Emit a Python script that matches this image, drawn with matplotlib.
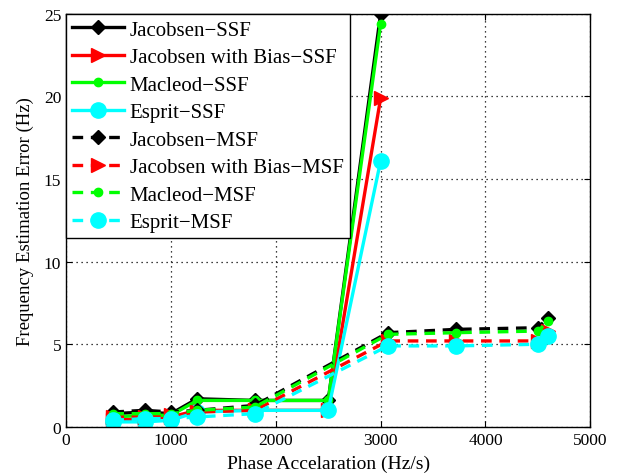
import matplotlib
matplotlib.use("Agg")
import matplotlib.pyplot as plt

# SSF data
ssf_x = [450, 750, 1000, 1250, 1800, 2500, 3000]
jac_ssf = [0.8, 0.9, 0.8, 1.7, 1.6, 1.6, 25.0]
jacb_ssf = [0.4, 0.5, 0.6, 1.0, 1.0, 1.0, 19.9]
mac_ssf = [0.6, 0.7, 0.7, 1.6, 1.6, 1.6, 24.4]
esp_ssf = [0.3, 0.3, 0.4, 0.9, 1.0, 1.0, 16.1]

# MSF data
msf_x = [450, 750, 1000, 1250, 1800, 3070, 3720, 4500, 4600]
jac_msf = [0.9, 1.0, 0.9, 1.0, 1.3, 5.7, 5.9, 6.0, 6.6]
jacb_msf = [0.6, 0.6, 0.7, 0.9, 1.0, 5.2, 5.2, 5.2, 5.8]
mac_msf = [0.8, 0.8, 0.8, 1.0, 1.2, 5.6, 5.7, 5.8, 6.4]
esp_msf = [0.4, 0.5, 0.5, 0.6, 0.8, 4.9, 4.9, 5.0, 5.5]

labels = ["Jacobsen\u2212SSF", "Jacobsen with Bias\u2212SSF", "Macleod\u2212SSF", "Esprit\u2212SSF",
          "Jacobsen\u2212MSF", "Jacobsen with Bias\u2212MSF", "Macleod\u2212MSF", "Esprit\u2212MSF"]

plt.rcParams['font.family'] = ['Liberation Serif', 'DejaVu Serif']

fig = plt.figure(figsize=(6.24, 4.77), dpi=100)
ax = fig.add_axes([0.106, 0.103, 0.840, 0.866])

lw = 2.4
styles = [
    dict(color='black', marker='D', ms=7),
    dict(color='red', marker='>', ms=10),
    dict(color='#00ff00', marker='o', ms=6),
    dict(color='cyan', marker='o', ms=11),
]
ssf = [jac_ssf, jacb_ssf, mac_ssf, esp_ssf]
msf = [jac_msf, jacb_msf, mac_msf, esp_msf]
for data, st, lab in zip(ssf, styles, labels[:4]):
    ax.plot(ssf_x, data, linestyle='-', lw=lw, label=lab, **st)
for data, st, lab in zip(msf, styles, labels[4:]):
    ax.plot(msf_x, data, linestyle=(0, (3.2, 2.3)), lw=lw, label=lab, **st)

ax.set_xlim(0, 5000)
ax.set_ylim(0, 25)
ax.set_xticks([0, 1000, 2000, 3000, 4000, 5000])
ax.set_yticks([0, 5, 10, 15, 20, 25])
ax.grid(True, color='black', linestyle=(0, (1, 3)), linewidth=0.9)
ax.tick_params(direction='in', top=True, right=True, labelsize=12.5, length=4)
for s in ax.spines.values():
    s.set_linewidth(1.0)
ax.set_xlabel("Phase Accelaration (Hz/s)", fontsize=14, labelpad=5)
ax.set_ylabel("Frequency Estimation Error (Hz)", fontsize=13.5, labelpad=7)

leg = ax.legend(loc='upper left', fontsize=15, handlelength=2.5, fancybox=False,
                edgecolor='black', framealpha=1, borderaxespad=0, labelspacing=0.38,
                borderpad=0.3, handletextpad=0.25)
leg.get_frame().set_linewidth(1.0)

fig.savefig("out.png", dpi=100)
